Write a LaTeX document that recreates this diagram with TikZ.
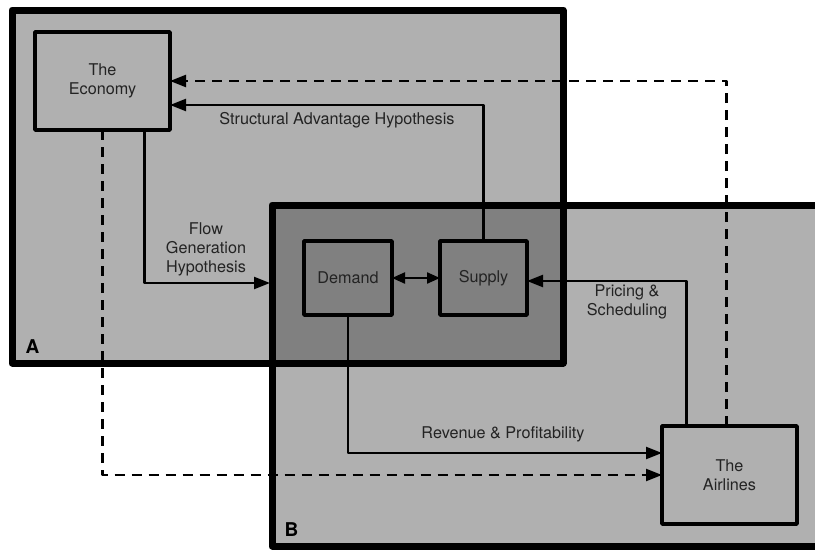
\documentclass[tikz,border=0pt]{standalone}
\usepackage{fontspec}
\setmainfont{TeX Gyre Heros}
\usetikzlibrary{arrows.meta,calc}

\begin{document}
\begin{tikzpicture}[x=1pt,y=-1pt,>={Triangle[length=16pt,width=12pt]},
 font=\fontsize{16.2}{19}\selectfont,line join=round]
\definecolor{zone}{RGB}{176,176,176}
\definecolor{overlap}{RGB}{128,128,128}
\definecolor{ink}{RGB}{35,35,35}
\tikzset{
 region/.style={fill=zone,draw=none,anchor=north west,inner sep=0pt,outer sep=0pt},
 actor/.style={draw=black,line width=3.5pt,inner sep=0pt,outer sep=0pt,
  align=center,text=ink},
 conn/.style={->,line width=2.2pt},
 tag/.style={align=center,text=ink},
}
\useasboundingbox (0,0) rectangle (815,550);
\fill[white] (0,0) rectangle (815,550);
% the two overlapping zones
\node[region,minimum width=551pt,minimum height=353pt] (regA) at (12,10) {};
\node[region,minimum width=548pt,minimum height=341pt] (regB) at (272,205) {};
\fill[overlap] (regB.north west) rectangle (regA.south east);
\draw[line width=7pt] (regA.north west) rectangle (regA.south east);
\draw[line width=7pt] (regB.north west) rectangle (regB.south east);
\node[font=\fontsize{19}{19}\selectfont\bfseries,anchor=base west] (labA) at (22,353) {A};
\node[font=\fontsize{19}{19}\selectfont\bfseries,anchor=base west] (labB) at (281,536) {B};
% actors
\node[actor,minimum width=135pt,minimum height=98pt] (economy) at (102.5,81) {The\\Economy};
\node[actor,minimum width=88pt,minimum height=74pt] (demand) at (348,278) {Demand};
\node[actor,minimum width=87pt,minimum height=74pt] (supply) at (483.5,278) {Supply};
\node[actor,minimum width=135pt,minimum height=98pt] (airlines) at (729.5,475) {The\\Airlines};
% links
\draw[conn] (supply.north) |- ([yshift=-24pt]economy.east);
\node[tag] (lblSAH) at (337,120) {Structural Advantage Hypothesis};
\draw[conn,dash pattern=on 10pt off 7pt] ([xshift=-3pt]airlines.north) |- (economy.east);
\coordinate (flowEnd) at (270,283);
\draw[conn] ([xshift=42pt]economy.south) |- (flowEnd);
\node[tag] (lblFGH) at (206,249) {Flow\\Generation\\Hypothesis};
\draw[line width=2.2pt,{Triangle[length=13pt,width=11pt]}-{Triangle[length=13pt,width=11pt]}]
 (demand.east) -- (supply.west);
\draw[conn] ([xshift=-43pt]airlines.north) |- ([yshift=-3pt]supply.east);
\node[tag] (lblPS) at (627,302) {Pricing \&\\Scheduling};
\draw[conn] (demand.south) |- ([yshift=22pt]airlines.west);
\node[tag] (lblRP) at (503,434) {Revenue \& Profitability};
\draw[conn,dash pattern=on 10pt off 7pt] (economy.south) |- (airlines.west);
\end{tikzpicture}
\end{document}
